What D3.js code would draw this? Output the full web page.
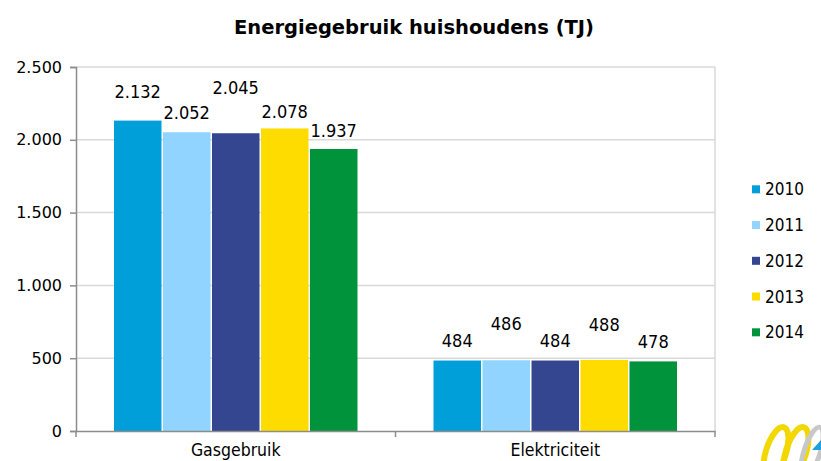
<!DOCTYPE html>
<html>
<head>
<meta charset="utf-8">
<script src="https://cdn.jsdelivr.net/npm/d3@7"></script>
<style>
  html, body { margin: 0; padding: 0; background: #fff; }
  svg { display: block; }
</style>
</head>
<body>
<svg id="chart" width="821" height="461"></svg>
<script>
// ---- data ----
const categories = ["Gasgebruik", "Elektriciteit"];
const years = ["2010", "2011", "2012", "2013", "2014"];
const values2010 = [2132, 484];
const values2011 = [2052, 486];
const values2012 = [2045, 484];
const values2013 = [2078, 488];
const values2014 = [1937, 478];
const yTicks = [0, 500, 1000, 1500, 2000, 2500];
const title = "Energiegebruik huishoudens (TJ)";

// ---- style ----
const colors = ["#009FDA", "#91D4FF", "#34468F", "#FFDC00", "#00933B"];
// vertical lift of each value label above its bar (as placed in the original)
const labelLift = [
  [22.5, 13, 39.5, 10.5, 12],
  [14, 30.5, 14, 29, 13.5]
];

const series = [values2010, values2011, values2012, values2013, values2014];
const svg = d3.select("#chart");

const plotLeft = 76, plotRight = 715, plotTop = 67, plotBottom = 431;

const nl = d3.formatLocale({ decimal: ",", thousands: ".", grouping: [3], currency: ["", ""] });
const fmt = nl.format(",d");

const y = d3.scaleLinear().domain([0, 2500]).range([plotBottom, plotTop]);
const x0 = d3.scaleBand().domain(categories).range([plotLeft, plotRight]).padding(0);
const x1 = d3.scaleBand().domain(years).range([0, x0.bandwidth()]).paddingInner(0).paddingOuter(0.76);

// gridlines
svg.append("g").selectAll("line").data(yTicks.filter(d => d > 0)).join("line")
  .attr("x1", plotLeft).attr("x2", plotRight)
  .attr("y1", d => y(d)).attr("y2", d => y(d))
  .attr("stroke", "#D9D9D9").attr("stroke-width", 1.5);
// right border
svg.append("line").attr("x1", plotRight).attr("x2", plotRight).attr("y1", plotTop).attr("y2", plotBottom)
  .attr("stroke", "#D9D9D9").attr("stroke-width", 1.5);

// bars
const groups = svg.append("g").selectAll("g").data(categories).join("g")
  .attr("transform", c => `translate(${x0(c)},0)`);
groups.each(function (c, ci) {
  const g = d3.select(this);
  years.forEach((yr, si) => {
    const v = series[si][ci];
    g.append("rect")
      .attr("x", x1(yr) + 0.75)
      .attr("width", x1.bandwidth() - 1.5)
      .attr("y", y(v))
      .attr("height", y(0) - y(v))
      .attr("fill", colors[si]);
    g.append("text")
      .attr("x", x1(yr) + x1.bandwidth() / 2)
      .attr("y", y(v) - labelLift[ci][si])
      .attr("text-anchor", "middle")
      .attr("font-family", "'DejaVu Sans Condensed', 'DejaVu Sans', sans-serif")
      .attr("font-stretch", "condensed")
      .attr("font-size", 18)
      .attr("fill", "#000")
      .text(fmt(v));
  });
});

// y axis
const yAxis = d3.axisLeft(y).tickValues(yTicks).tickFormat(fmt).tickSize(6).tickPadding(8);
const gy = svg.append("g").attr("transform", `translate(${plotLeft},0)`).call(yAxis);
gy.select(".domain").attr("stroke", "#8C8C8C").attr("stroke-width", 1.5);
gy.selectAll(".tick line").attr("stroke", "#8C8C8C").attr("stroke-width", 1.5);
gy.selectAll(".tick text").attr("font-family", "'DejaVu Sans', sans-serif").attr("font-size", 16).attr("fill", "#000");

// x axis
const xAxis = d3.axisBottom(x0).tickSize(0).tickPadding(13);
const gx = svg.append("g").attr("transform", `translate(0,${plotBottom})`).call(xAxis);
gx.select(".domain").attr("stroke", "#8C8C8C").attr("stroke-width", 1.5);
gx.selectAll(".tick text")
  .attr("font-family", "'DejaVu Sans Condensed', 'DejaVu Sans', sans-serif")
  .attr("font-stretch", "condensed")
  .attr("font-size", 17.5).attr("fill", "#000");
// category separators
const sepPos = [plotLeft, ...categories.map(c => x0(c) + x0.bandwidth())];
svg.append("g").selectAll("line").data(sepPos).join("line")
  .attr("x1", d => d).attr("x2", d => d)
  .attr("y1", plotBottom).attr("y2", plotBottom + 6)
  .attr("stroke", "#8C8C8C").attr("stroke-width", 1.5);

// title
svg.append("text")
  .attr("x", 414).attr("y", 34)
  .attr("text-anchor", "middle")
  .attr("font-family", "'DejaVu Sans', sans-serif")
  .attr("font-weight", "bold")
  .attr("font-size", 19.5)
  .attr("fill", "#000")
  .text(title);

// legend
const legend = svg.append("g").selectAll("g").data(years).join("g")
  .attr("transform", (d, i) => `translate(752,${189.3 + i * 35.75})`);
legend.append("rect").attr("x", 0).attr("y", -4).attr("width", 8).attr("height", 8)
  .attr("fill", (d, i) => colors[i]);
legend.append("text").attr("x", 13).attr("y", 6)
  .attr("font-family", "'DejaVu Sans Condensed', 'DejaVu Sans', sans-serif")
  .attr("font-stretch", "condensed")
  .attr("font-size", 17).attr("fill", "#000")
  .text(d => d);

// logo fragment (bottom right)
const logo = svg.append("g");
logo.append("ellipse").attr("cx", 776).attr("cy", 452).attr("rx", 10).attr("ry", 26)
  .attr("transform", "rotate(18,776,452)")
  .attr("fill", "none").attr("stroke", "#F2D800").attr("stroke-width", 6);
logo.append("ellipse").attr("cx", 796).attr("cy", 452).attr("rx", 10).attr("ry", 26)
  .attr("transform", "rotate(18,796,452)")
  .attr("fill", "none").attr("stroke", "#F2D800").attr("stroke-width", 6);
logo.append("ellipse").attr("cx", 812).attr("cy", 452).attr("rx", 8).attr("ry", 26)
  .attr("transform", "rotate(18,812,452)")
  .attr("fill", "none").attr("stroke", "#C8C8C8").attr("stroke-width", 5);
logo.append("path").attr("d", "M812,450 L821,440 L821,450 Z").attr("fill", "#1E9FE0");
</script>
</body>
</html>
